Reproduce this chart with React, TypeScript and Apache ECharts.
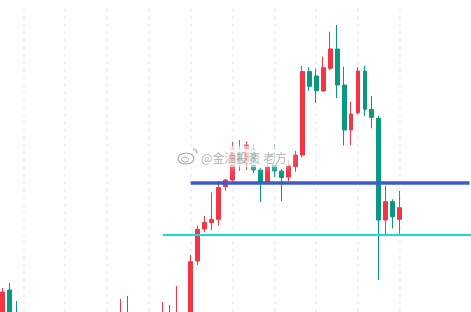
import React, { useEffect, useRef } from "react";
import * as echarts from "echarts";

// 69 time slots (58 with candles, the rest is right-hand margin)
const categories: string[] = Array.from({ length: 69 }, (_, i) => `T${i + 1}`);

const openValues: (number | null)[] = [
  -8, 22, -1, null, null, null, null, null, null, null, null, null, null, null, null, null,
  null, -10, -2, null, null, null, null, -8, -1, -6, null, -10,
  51, 83, 89.5, 92.7, 125.3, 132, 162, 148, 163, 142, 129.5, 148, 141, 135, 145.5, 157,
  240.5, 236, 221, 243.7, 263, 227, 182, 199.3, 241, 202.7, 193.7, 92, 110.3, 92.7,
];
const closeValues: (number | null)[] = [
  20, -4, -4, null, null, null, null, null, null, null, null, null, null, null, null, null,
  null, -3, -8, null, null, null, null, -2, -6, -1, null, 50.3,
  82.7, 89.5, 92.7, 124.5, 132, 163, 148.7, 167, 142, 130, 145, 141, 134.5, 146, 157, 240.5,
  225.7, 221.2, 244.3, 263, 227, 182, 198, 241, 202.7, 194.7, 92, 110.3, 95.3, 104.3,
];
const lowValues: (number | null)[] = [
  -13, -8, -8, null, null, null, null, null, null, null, null, null, null, null, null, null,
  null, -14, -12, null, null, null, null, -12, -10, -9, null, -12,
  47, 79.7, 82, 86.5, 121.3, 130.5, 141, 142, 139, 110, 128, 135, 111, 131, 140.3, 154.5,
  221.3, 209, 220.3, 242, 214, 166.5, 167, 197.5, 196, 183.7, 32, 75.7, 83.5, 78.3,
];
const highValues: (number | null)[] = [
  24, 29, 11, null, null, null, null, null, null, null, null, null, null, null, null, null,
  null, 13, 16, null, null, null, null, 10, 7, 26, null, 57,
  86.3, 96, 119.5, 131, 133, 170, 172, 170.5, 166.5, 144, 150.3, 167, 143, 152, 161, 246,
  244.7, 243.5, 255.3, 280.3, 287, 245.3, 210.3, 245, 246, 216, 196.3, 126, 112.7, 121,
];

// time grid lines (every 6th bar)
const gridLineSlots: number[] = [3, 9, 15, 21, 27, 33, 39, 45, 51, 57];

// drawn price levels
const blueLevel = 129.3;
const blueStart = 27.2;
const blueEnd = 67;
const cyanLevel = 77;
const cyanStart = 23.3;
const cyanEnd = 68;

const watermark = "@金油投资 老方";

const UP = "#F23645";
const DOWN = "#089981";

export default function App() {
  const ref = useRef<HTMLDivElement>(null);

  useEffect(() => {
    if (!ref.current) return;
    document.body.style.margin = "0";
    document.body.style.overflow = "hidden";
    const chart = echarts.init(ref.current, undefined, { renderer: "svg" });

    const candleData = openValues.map((o, i) => {
      if (o === null) return ["-", "-", "-", "-"];
      return [o, closeValues[i], lowValues[i], highValues[i]];
    });
    const emptyLine = categories.map(() => "-");

    chart.setOption({
      animation: false,
      backgroundColor: "#ffffff",
      grid: { left: 0, right: 0, top: 6, bottom: 0 },
      xAxis: {
        type: "category",
        data: categories,
        boundaryGap: true,
        axisLine: { show: false },
        axisTick: { show: false },
        axisLabel: { show: false },
        splitLine: { show: false },
      },
      yAxis: {
        type: "value",
        min: 0,
        max: 306,
        axisLine: { show: false },
        axisTick: { show: false },
        axisLabel: { show: false },
        splitLine: { show: false },
      },
      series: [
        {
          type: "line",
          data: emptyLine,
          silent: true,
          symbol: "none",
          z: 0,
          markLine: {
            silent: true,
            z: 0,
            symbol: ["none", "none"],
            label: { show: false },
            lineStyle: { color: "#eceef5", width: 1.5, type: [3.5, 4] },
            data: gridLineSlots.map((s) => ({ xAxis: s })),
          },
        },
        {
          type: "candlestick",
          data: candleData,
          barWidth: 4.4,
          clip: true,
          z: 2,
          itemStyle: {
            color: UP,
            color0: DOWN,
            borderColor: UP,
            borderColor0: DOWN,
            borderWidth: 1,
          },
          markLine: {
            silent: true,
            z: 5,
            symbol: ["none", "none"],
            label: { show: false },
            data: [
              [
                { coord: [blueStart, blueLevel], lineStyle: { color: "#3b5bd5", width: 3.5, type: "solid" } },
                { coord: [blueEnd, blueLevel] },
              ],
              [
                { coord: [cyanStart, cyanLevel], lineStyle: { color: "#16d9df", width: 2, type: "solid" } },
                { coord: [cyanEnd, cyanLevel] },
              ],
            ],
          },
        },
      ],
      graphic: [
        {
          type: "rect",
          z: 20,
          silent: true,
          shape: { x: 177, y: 146, width: 116, height: 21, r: 8 },
          style: { fill: "rgba(255,255,255,0.5)", shadowBlur: 8, shadowColor: "rgba(255,255,255,0.9)" },
        },
        {
          type: "ellipse",
          z: 21,
          silent: true,
          shape: { cx: 187, cy: 158.5, rx: 8, ry: 5.5 },
          style: { fill: "rgba(255,255,255,0.6)", stroke: "rgba(150,150,150,0.8)", lineWidth: 1.2 },
        },
        {
          type: "ellipse",
          z: 22,
          silent: true,
          shape: { cx: 186, cy: 159.5, rx: 3.5, ry: 2.5 },
          style: { fill: "none", stroke: "rgba(150,150,150,0.8)", lineWidth: 1 },
        },
        {
          type: "arc",
          z: 22,
          silent: true,
          shape: { cx: 194, cy: 153, r: 4, startAngle: -Math.PI / 2, endAngle: 0.2 },
          style: { fill: "none", stroke: "rgba(150,150,150,0.8)", lineWidth: 1.2 },
        },
        {
          type: "text",
          z: 23,
          silent: true,
          x: 202,
          y: 157,
          style: {
            text: watermark,
            font: '12px "Noto Sans CJK SC"',
            fill: "rgba(150,150,150,0.75)",
            verticalAlign: "middle",
            textBorderColor: "rgba(255,255,255,0.85)",
            textBorderWidth: 3,
          },
        },
      ],
    });

    return () => {
      chart.dispose();
    };
  }, []);

  return (
    <div
      ref={ref}
      style={{ position: "absolute", left: -1, top: 0, width: 481, height: 312 }}
    />
  );
}
